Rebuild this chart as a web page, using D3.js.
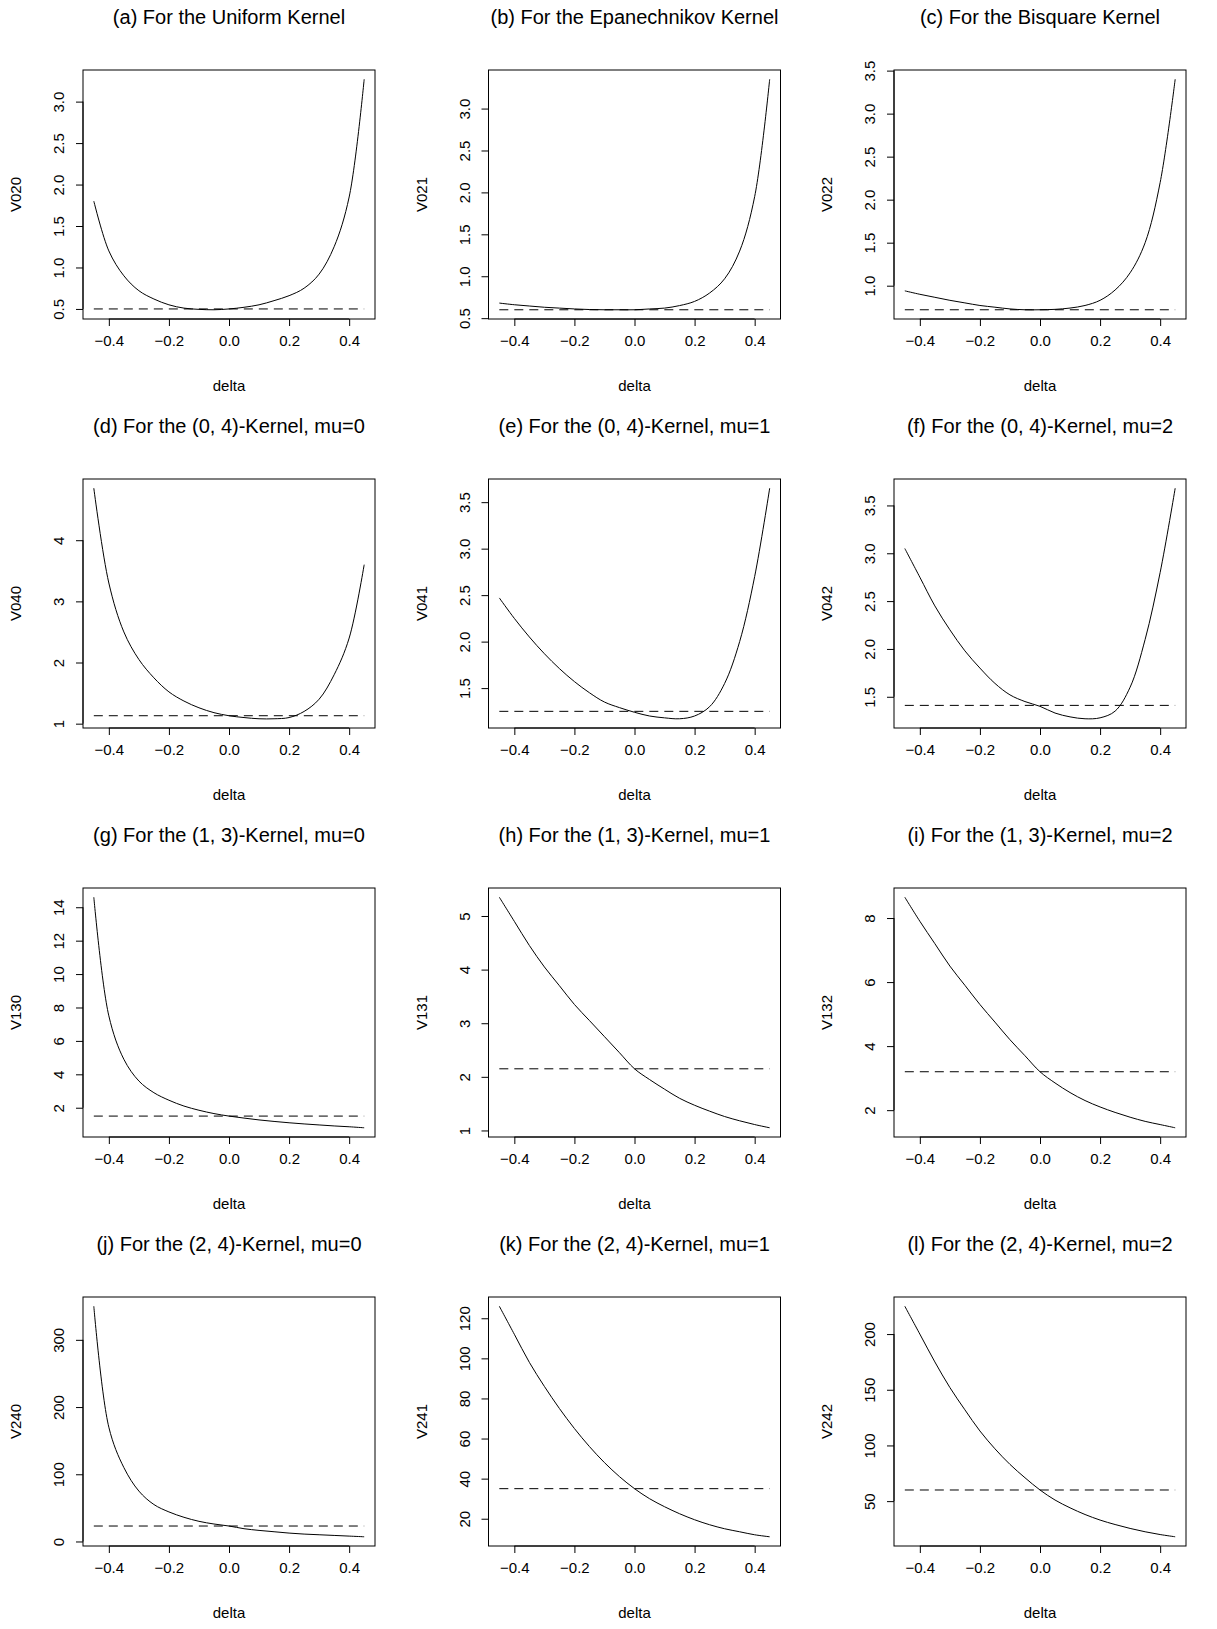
<!DOCTYPE html>
<html>
<head>
<meta charset="utf-8">
<script src="https://cdn.jsdelivr.net/npm/d3@7"></script>
<style>
  body { margin: 0; background: #fff; }
  text { font-family: "Liberation Sans", Arial, sans-serif; fill: #000; }
</style>
</head>
<body>
<div id="chart"></div>
<script>
var svgWidth = 1217;
var svgHeight = 1629;

var deltas = [-0.45, -0.4, -0.35, -0.3, -0.25, -0.2, -0.15, -0.1, -0.05, 0,
              0.05, 0.1, 0.15, 0.2, 0.25, 0.3, 0.35, 0.4, 0.45];
var xTicks = [-0.4, -0.2, 0.0, 0.2, 0.4];

var titles = [
  "(a) For the Uniform Kernel", "(b) For the Epanechnikov Kernel", "(c) For the Bisquare Kernel",
  "(d) For the (0, 4)-Kernel, mu=0", "(e) For the (0, 4)-Kernel, mu=1", "(f) For the (0, 4)-Kernel, mu=2",
  "(g) For the (1, 3)-Kernel, mu=0", "(h) For the (1, 3)-Kernel, mu=1", "(i) For the (1, 3)-Kernel, mu=2",
  "(j) For the (2, 4)-Kernel, mu=0", "(k) For the (2, 4)-Kernel, mu=1", "(l) For the (2, 4)-Kernel, mu=2"
];
var yLabels = ["V020", "V021", "V022", "V040", "V041", "V042",
               "V130", "V131", "V132", "V240", "V241", "V242"];

var V020 = [1.8, 1.2, 0.9, 0.72, 0.62, 0.55, 0.51, 0.495, 0.49, 0.5, 0.52, 0.55, 0.6, 0.66, 0.75, 0.92, 1.25, 1.85, 3.27];
var V021 = [0.68, 0.66, 0.645, 0.63, 0.62, 0.61, 0.603, 0.6, 0.6, 0.6, 0.61, 0.62, 0.65, 0.7, 0.8, 0.97, 1.3, 1.95, 3.35];
var V022 = [0.94, 0.9, 0.865, 0.83, 0.8, 0.77, 0.75, 0.73, 0.72, 0.72, 0.725, 0.74, 0.77, 0.83, 0.95, 1.15, 1.5, 2.2, 3.4];
var V040 = [4.85, 3.3, 2.5, 2.05, 1.75, 1.52, 1.37, 1.26, 1.18, 1.13, 1.1, 1.08, 1.08, 1.1, 1.2, 1.4, 1.8, 2.4, 3.6];
var V041 = [2.47, 2.25, 2.05, 1.87, 1.71, 1.57, 1.45, 1.35, 1.29, 1.24, 1.2, 1.18, 1.17, 1.2, 1.3, 1.55, 2.0, 2.7, 3.65];
var V042 = [3.05, 2.75, 2.45, 2.2, 1.98, 1.8, 1.64, 1.52, 1.45, 1.4, 1.33, 1.29, 1.27, 1.28, 1.35, 1.6, 2.1, 2.8, 3.68];
var V130 = [14.6, 7.5, 4.9, 3.6, 2.9, 2.45, 2.1, 1.85, 1.65, 1.5, 1.38, 1.27, 1.18, 1.1, 1.03, 0.97, 0.91, 0.86, 0.8];
var V131 = [5.35, 4.9, 4.45, 4.05, 3.7, 3.35, 3.05, 2.75, 2.45, 2.15, 1.95, 1.77, 1.6, 1.47, 1.36, 1.26, 1.18, 1.11, 1.05];
var V132 = [8.65, 7.9, 7.2, 6.5, 5.9, 5.3, 4.75, 4.2, 3.7, 3.2, 2.85, 2.55, 2.3, 2.1, 1.93, 1.78, 1.65, 1.55, 1.45];
var V240 = [350, 170, 110, 75, 55, 44, 36, 30, 26, 23, 19, 16.5, 14.5, 12.5, 11, 10, 9, 8, 7];
var V241 = [126, 112, 98, 86, 75, 65, 56, 48, 41, 35, 30, 26, 22.5, 19.5, 17, 15, 13.5, 12, 11];
var V242 = [225, 200, 175, 152, 132, 113, 97, 83, 71, 60, 51, 44, 38, 33, 29, 25.5, 22.5, 20, 18];
var series = [V020, V021, V022, V040, V041, V042, V130, V131, V132, V240, V241, V242];

var refLevels = [0.5, 0.6, 0.72, 1.13, 1.25, 1.41, 1.5, 2.15, 3.2, 23, 35, 60];

var yTicks = [
  [0.5, 1.0, 1.5, 2.0, 2.5, 3.0], [0.5, 1.0, 1.5, 2.0, 2.5, 3.0], [1.0, 1.5, 2.0, 2.5, 3.0, 3.5],
  [1, 2, 3, 4], [1.5, 2.0, 2.5, 3.0, 3.5], [1.5, 2.0, 2.5, 3.0, 3.5],
  [2, 4, 6, 8, 10, 12, 14], [1, 2, 3, 4, 5], [2, 4, 6, 8],
  [0, 100, 200, 300], [20, 40, 60, 80, 100, 120], [50, 100, 150, 200]
];
var yFormats = [".1f", ".1f", ".1f", "d", ".1f", ".1f", "d", "d", "d", "d", "d", "d"];

var boxW = 292, boxH = 249;

var svg = d3.select("#chart").append("svg")
  .attr("width", svgWidth)
  .attr("height", svgHeight);

series.forEach(function(vals, i) {
  var col = i % 3, row = Math.floor(i / 3);
  var left = 83 + 405.5 * col;
  var top = 70 + 409 * row;

  var g = svg.append("g").attr("transform", `translate(${left}, ${top})`);

  // R style 4% padding
  var xPad = 0.04 * 0.9;
  var x = d3.scaleLinear().domain([-0.45 - xPad, 0.45 + xPad]).range([0, boxW]);
  var lo = Math.min(d3.min(vals), refLevels[i]);
  var hi = Math.max(d3.max(vals), refLevels[i]);
  var yPad = 0.04 * (hi - lo);
  var y = d3.scaleLinear().domain([lo - yPad, hi + yPad]).range([boxH, 0]);

  g.append("rect")
    .attr("width", boxW).attr("height", boxH)
    .attr("fill", "none").attr("stroke", "#000").attr("stroke-width", 1);

  var line = d3.line()
    .x(function(d, j) { return x(deltas[j]); })
    .y(function(d) { return y(d); })
    .curve(d3.curveCatmullRom.alpha(0.5));

  g.append("path")
    .datum(vals)
    .attr("d", line)
    .attr("fill", "none").attr("stroke", "#000").attr("stroke-width", 1);

  g.append("line")
    .attr("x1", x(-0.45)).attr("x2", x(0.45))
    .attr("y1", y(refLevels[i])).attr("y2", y(refLevels[i]))
    .attr("stroke", "#000").attr("stroke-dasharray", "9,6");

  var xAxis = g.append("g")
    .attr("transform", `translate(0, ${boxH})`)
    .call(d3.axisBottom(x).tickValues(xTicks).tickFormat(d3.format(".1f")).tickSizeOuter(0).tickSize(7).tickPadding(9));
  xAxis.select(".domain").attr("d", `M${x(-0.4)},0H${x(0.4)}`);
  xAxis.selectAll("text").attr("font-size", "15px").style("font-family", "Liberation Sans, Arial, sans-serif");

  var yt = yTicks[i];
  var yAxis = g.append("g")
    .call(d3.axisLeft(y).tickValues(yt).tickFormat(d3.format(yFormats[i])).tickSizeOuter(0).tickSize(7));
  yAxis.select(".domain").attr("d", `M0,${y(yt[0])}V${y(yt[yt.length - 1])}`);
  yAxis.selectAll("text")
    .attr("font-size", "15px")
    .style("font-family", "Liberation Sans, Arial, sans-serif")
    .attr("text-anchor", "middle")
    .attr("x", null).attr("dy", null)
    .attr("transform", "translate(-19, 0) rotate(-90)");

  g.append("text")
    .attr("x", boxW / 2).attr("y", -46)
    .attr("text-anchor", "middle")
    .attr("font-size", "20px")
    .text(titles[i]);

  g.append("text")
    .attr("x", boxW / 2).attr("y", boxH + 72)
    .attr("text-anchor", "middle")
    .attr("font-size", "15px")
    .text("delta");

  g.append("text")
    .attr("transform", `translate(-62, ${boxH / 2}) rotate(-90)`)
    .attr("text-anchor", "middle")
    .attr("font-size", "15px")
    .text(yLabels[i]);
});
</script>
</body>
</html>
